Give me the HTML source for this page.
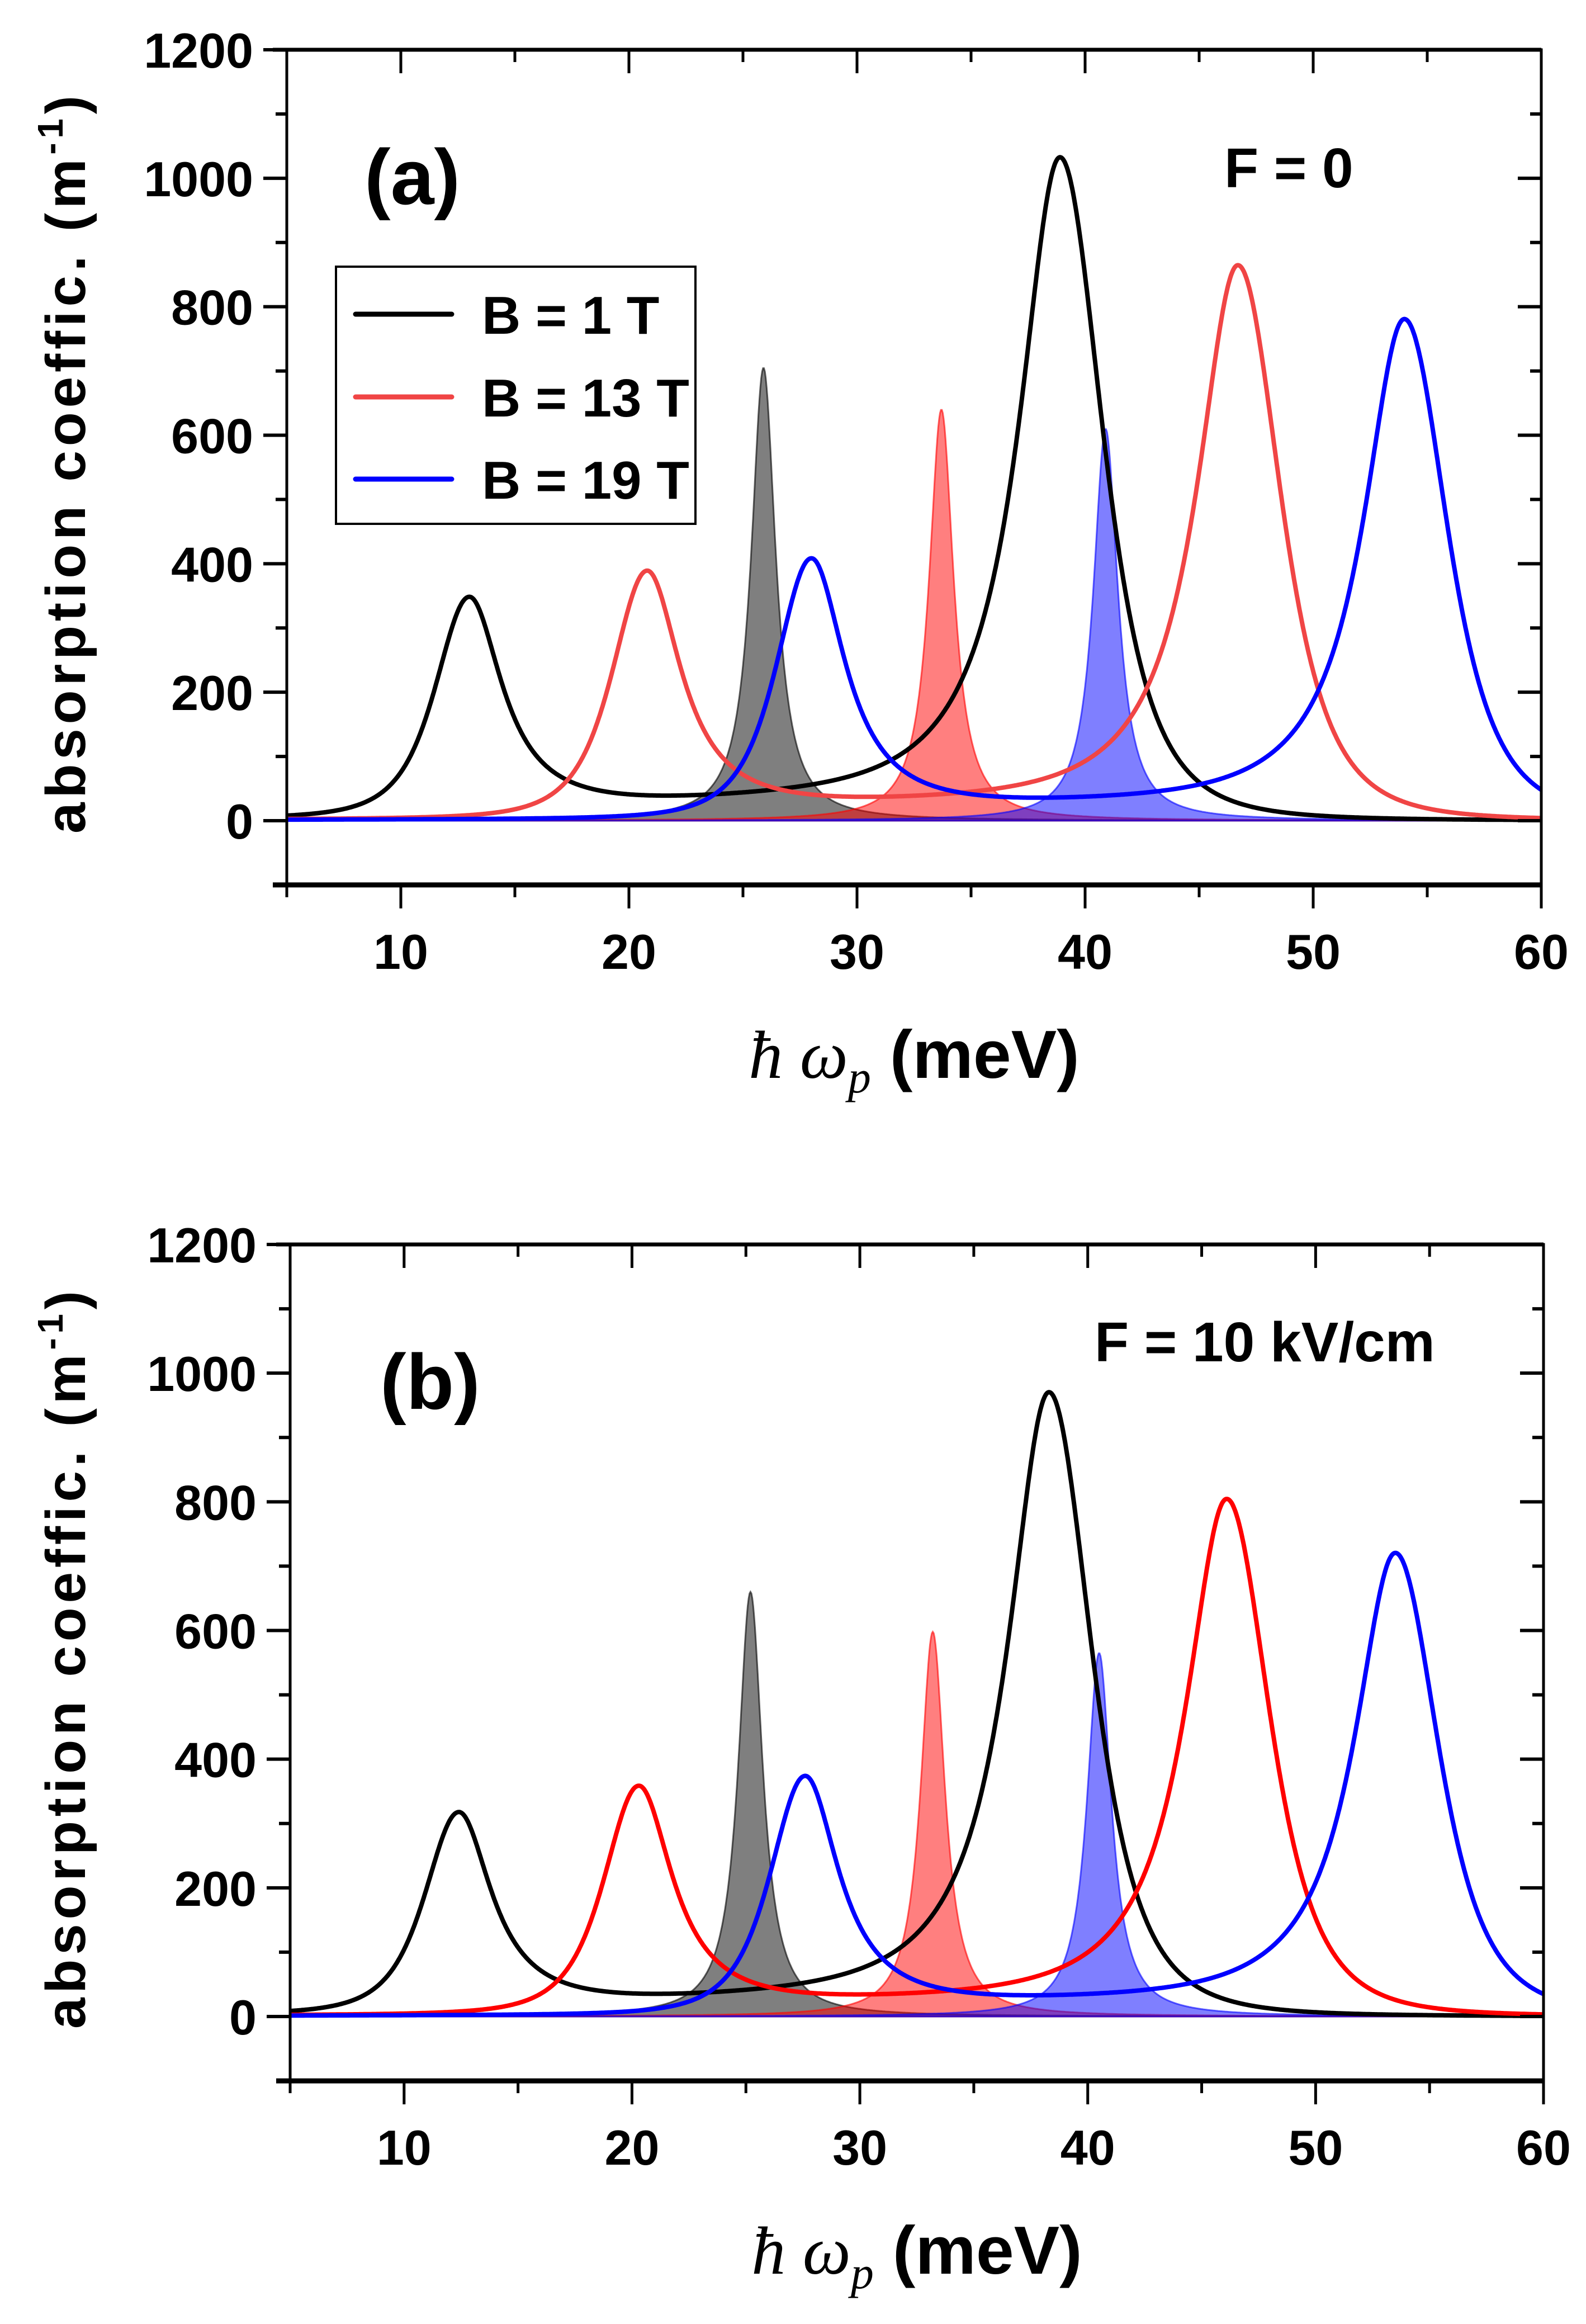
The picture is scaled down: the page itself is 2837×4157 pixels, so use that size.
<!DOCTYPE html>
<html><head><meta charset="utf-8"><style>
html,body{margin:0;padding:0;background:#fff;}
svg{display:block;}
text{font-family:"Liberation Sans",Arial,sans-serif;font-weight:bold;fill:#000;}
</style></head>
<body>
<svg id="fig" width="2837" height="4157" viewBox="0 0 2837 4157" xmlns="http://www.w3.org/2000/svg"></svg>
<script>
// ---- data (peak center meV, peak height m^-1, half-width meV) ----
const xTicks = [10, 20, 30, 40, 50, 60];
const yTicks = [0, 200, 400, 600, 800, 1000, 1200];
const seriesNames = ["B = 1 T", "B = 13 T", "B = 19 T"];
// panel a
const aLineCenters = [[13.0, 38.9], [20.8, 46.7], [28.0, 54.0]];
const aLineHeights = [[340, 1030], [382, 862], [402, 778]];
const aLineWidths  = [[1.75, 2.2], [1.8, 2.2], [1.8, 2.2]];
const aValleyCenters = [26, 33.5, 41];
const aValleyHeights = [12, 10, 10];
const aFillCenters = [25.9, 33.7, 40.9];
const aFillHeights = [705, 640, 610];
const aFillWidths  = [0.65, 0.65, 0.65];
// panel b
const bLineCenters = [[12.4, 38.3], [20.3, 46.1], [27.6, 53.5]];
const bLineHeights = [[310, 968], [352, 802], [368, 718]];
const bLineWidths  = [[1.75, 2.2], [1.8, 2.2], [1.8, 2.2]];
const bValleyCenters = [25.5, 33, 40.5];
const bValleyHeights = [10, 9, 9];
const bFillCenters = [25.2, 33.2, 40.5];
const bFillHeights = [660, 598, 565];
const bFillWidths  = [0.65, 0.65, 0.65];

const NS = "http://www.w3.org/2000/svg";
const svg = document.getElementById("fig");
function mk(tag, attrs, parent) {
  const e = document.createElementNS(NS, tag);
  for (const k in attrs) e.setAttribute(k, attrs[k]);
  (parent || svg).appendChild(e);
  return e;
}
function lor(x, c, h, w) { return h / (1 + ((x - c) / w) ** 2); }
function lor2(x, c, h, hw) { const w = hw / 0.6436; const u = 1 + ((x - c) / w) ** 2; return h / (u * u); }
function bg(x, c, h) { return h * Math.exp(-((x - c) ** 2) / (2 * 36)); }
// inner side (toward the other peak) Lorentzian, outer side faster decay
function peak(x, c, h, w, k) {
  const inner = (k === 0) ? (x > c) : (x < c);
  return inner ? lor(x, c, h, w) : lor2(x, c, h, w);
}

function panel(cfg) {
  const g = mk("g", {});
  
  
  const X = v => cfg.x0 + (v - 5) / 55 * (cfg.x1 - cfg.x0);
  const Y = v => cfg.yz - v * (cfg.yz - cfg.yt) / 1200;
  const clip = mk("clipPath", { id: cfg.id + "clip" }, g);
  mk("rect", { x: cfg.x0, y: Y(1200), width: cfg.x1 - cfg.x0, height: Y(-100) - Y(1200) }, clip);
  const plot = mk("g", { "clip-path": "url(#" + cfg.id + "clip)" }, g);
  const fillCols = ["rgba(0,0,0,0.5)", "rgba(255,0,0,0.5)", "rgba(0,0,255,0.5)"];
  const fillEdge = ["rgba(0,0,0,0.6)", "rgba(255,0,0,0.6)", "rgba(0,0,255,0.6)"];
  for (let i = 0; i < 3; i++) {
    let d = "M" + X(5) + "," + Y(0);
    for (let x = 5; x <= 60.001; x += 0.04) d += " L" + X(x).toFixed(1) + "," + Y(lor(x, cfg.fc[i], cfg.fh[i], cfg.fw[i])).toFixed(1);
    d += " L" + X(60) + "," + Y(0) + " Z";
    const p = mk("path", { d: d, fill: fillCols[i], stroke: fillEdge[i], "stroke-width": 3 }, plot);
    
    
  }
  for (let i = 0; i < 3; i++) {
    let d = "";
    for (let x = 5; x <= 60.001; x += 0.04) {
      let v = bg(x, cfg.vc[i], cfg.vh[i]);
      for (let k = 0; k < cfg.lc[i].length; k++) v += peak(x, cfg.lc[i][k], cfg.lh[i][k], cfg.lw[i][k], k);
      d += (d ? " L" : "M") + X(x).toFixed(1) + "," + Y(v).toFixed(1);
    }
    const p = mk("path", { d: d, fill: "none", stroke: cfg.cols[i], "stroke-width": 8, "stroke-linejoin": "round" }, plot);
    
    
  }
  const fr = mk("rect", { x: cfg.x0, y: Y(1200), width: cfg.x1 - cfg.x0, height: Y(-100) - Y(1200), fill: "none", stroke: "#000", "stroke-width": 5 }, g);
  
  
  mk("line", { x1: cfg.x0 - 25, y1: Y(-100), x2: cfg.x1, y2: Y(-100), stroke: "#000", "stroke-width": 9 }, g);
  mk("line", { x1: cfg.x0 - 25, y1: Y(1200), x2: cfg.x1, y2: Y(1200), stroke: "#000", "stroke-width": 7 }, g);
  for (let v = 5; v <= 60; v += 5) {
    const major = v % 10 === 0;
    mk("line", { x1: X(v), y1: Y(-100), x2: X(v), y2: Y(-100) + (major ? 42 : 22), stroke: "#000", "stroke-width": 5 }, g);
    if (v > 5 && v < 60) mk("line", { x1: X(v), y1: Y(1200), x2: X(v), y2: Y(1200) + (major ? 42 : 22), stroke: "#000", "stroke-width": 5 }, g);
  }
  xTicks.forEach(v => {
    const t = mk("text", { x: X(v), y: Y(-100) + 150, "font-size": 88, "text-anchor": "middle" }, g);
    t.textContent = v;
    
    
  });
  for (let v = -100; v <= 1200; v += 100) {
    const major = v % 200 === 0;
    mk("line", { x1: cfg.x0 - (major ? 42 : 20), y1: Y(v), x2: cfg.x0, y2: Y(v), stroke: "#000", "stroke-width": 6 }, g);
    mk("line", { x1: cfg.x1, y1: Y(v), x2: cfg.x1 - (major ? 42 : 20), y2: Y(v), stroke: "#000", "stroke-width": 6 }, g);
  }
  yTicks.forEach(v => {
    const t = mk("text", { x: cfg.x0 - 60, y: Y(v) + 32, "font-size": 88, "text-anchor": "end" }, g);
    t.textContent = v;
    
    
  });
  const yt = mk("text", { x: 0, y: 0, "font-size": 100, "text-anchor": "middle", textLength: 1320, lengthAdjust: "spacing", transform: "translate(152," + ((Y(1200) + Y(-100)) / 2 - 5) + ") rotate(-90)" }, g);
  yt.innerHTML = 'absorption coeffic. (m<tspan dy="-40" font-size="64">-1</tspan><tspan dy="40">)</tspan>';
  
  
  const xt = mk("text", { x: (cfg.x0 + cfg.x1) / 2 + 0, y: Y(-100) + 345, "font-size": 122, "text-anchor": "middle" }, g);
  xt.innerHTML = '<tspan font-family="Liberation Serif" font-style="italic" font-weight="normal">ħ ω</tspan><tspan font-family="Liberation Serif" font-style="italic" font-weight="normal" font-size="82" dy="26">p</tspan><tspan dy="-26"> (meV)</tspan>';
  
  
  const pl = mk("text", { x: cfg.lx, y: cfg.ly, "font-size": 140 }, g);
  pl.textContent = cfg.label;
  
  
  const fl = mk("text", { x: cfg.fx, y: cfg.fy, "font-size": 100 }, g);
  fl.textContent = cfg.ftext;
  
  
  return { X, Y };
}

panel({ id: "a", name: "panel-a", x0: 513, x1: 2757, yt: 89, yz: 1468,
  lc: aLineCenters, lh: aLineHeights, lw: aLineWidths, vc: aValleyCenters, vh: aValleyHeights,
  fc: aFillCenters, fh: aFillHeights, fw: aFillWidths,
  cols: ["#000000", "#f04545", "#0000ff"], label: "(a)", lx: 652, ly: 365, ftext: "F = 0", fx: 2190, fy: 335 });
panel({ id: "b", name: "panel-b", x0: 519, x1: 2761, yt: 2226, yz: 3607,
  lc: bLineCenters, lh: bLineHeights, lw: bLineWidths, vc: bValleyCenters, vh: bValleyHeights,
  fc: bFillCenters, fh: bFillHeights, fw: bFillWidths,
  cols: ["#000000", "#ff0000", "#0000ff"], label: "(b)", lx: 680, ly: 2520, ftext: "F = 10 kV/cm", fx: 1958, fy: 2435 });

const leg = mk("g", {});


mk("rect", { x: 601, y: 477, width: 643, height: 460, fill: "#fff", stroke: "#000", "stroke-width": 4 }, leg);
const legCols = ["#000000", "#f04545", "#0000ff"];
const legY = [562, 710, 857];
for (let i = 0; i < 3; i++) {
  const ln = mk("line", { x1: 636, y1: legY[i], x2: 808, y2: legY[i], stroke: legCols[i], "stroke-width": 9, "stroke-linecap": "round" }, leg);
  
  
  const t = mk("text", { x: 862, y: legY[i] + 35, "font-size": 96 }, leg);
  t.textContent = seriesNames[i];
  
  
}
</script>
</body></html>
